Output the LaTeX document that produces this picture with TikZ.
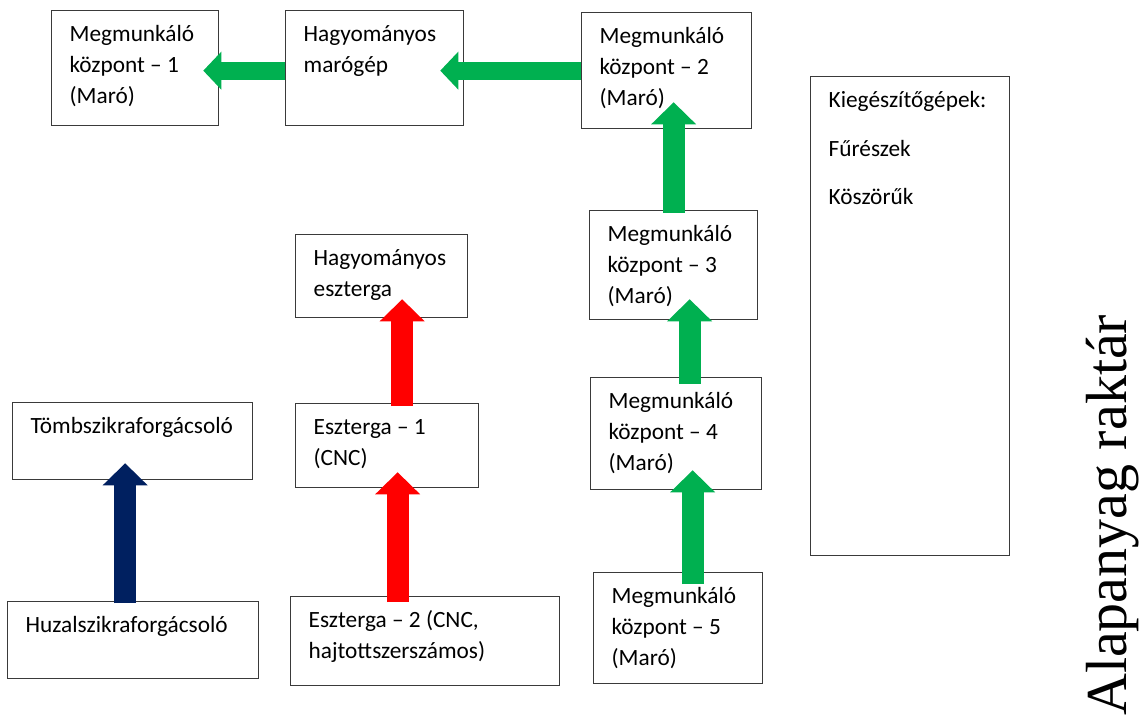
\documentclass[tikz,border=0pt]{standalone}
\usepackage{fontspec}
\setmainfont{Carlito}
\newfontfamily\raktarfont{Liberation Serif}
\usetikzlibrary{arrows.meta,calc}
\definecolor{flowgreen}{HTML}{00B050}
\definecolor{flowred}{HTML}{FF0000}
\definecolor{flownavy}{HTML}{002060}
\definecolor{boxline}{HTML}{3A3A3A}
\begin{document}
\begin{tikzpicture}[x=1pt,y=-1pt,
  % a machine box: #1 = text width, #2 = text depth (box height minus 31)
  machine/.style 2 args={draw=boxline, line width=1.3pt, anchor=north west,
    inner xsep=18pt, inner ysep=0pt, align=flush left,
    text width=#1pt, text height=31pt, text depth=#2pt,
    font=\fontsize{23.3}{31}\selectfont},
  flowv/.style={line width=22pt, -{Triangle[length=22pt, width=45pt, line width=0pt]}},
  flowh/.style={line width=18pt, -{Triangle[length=18pt, width=38pt, line width=0pt]}}]
\useasboundingbox (0,0) rectangle (1141,724);

% machine boxes
\node[machine={131}{84}] (mk1) at (51,10) {Megmunkáló\\központ – 1\\(Maró)};
\node[machine={142}{84}] (marogep) at (285,10) {Hagyományos\\marógép};
\node[machine={134}{85}] (mk2) at (581,12) {Megmunkáló\\központ – 2\\(Maró)};
\node[machine={163}{448}] (kieg) at (810,76) {Kiegészítőgépek:\\[17.5pt]Fűrészek\\[17.5pt]Köszörűk};
\node[machine={136}{52}] (hesz) at (295,234) {Hagyományos\\eszterga};
\node[machine={132}{78}] (mk3) at (589,210) {Megmunkáló\\központ – 3\\(Maró)};
\node[machine={204}{46}] (tomb) at (12,402) {Tömbszikraforgácsoló};
\node[machine={147}{53}] (esz1) at (295,403) {Eszterga – 1\\(CNC)};
\node[machine={135}{81}] (mk4) at (590,377) {Megmunkáló\\központ – 4\\(Maró)};
\node[machine={215}{46}] (huzal) at (7,601) {Huzalszikraforgácsoló};
\node[machine={233}{58}] (esz2) at (290,596) {Eszterga – 2 (CNC,\\hajtottszerszámos)};
\node[machine={133}{80}] (mk5) at (593,572) {Megmunkáló\\központ – 5\\(Maró)};

% storage label
\node[rotate=90, anchor=base west, inner sep=0pt,
  font=\raktarfont\fontsize{58}{60}\selectfont] (raktar) at (1126,716) {Alapanyag raktár};

% material flow: milling line
\draw[flowh, flowgreen] ($(marogep.west)+(0,2.5)$) -- ($(mk1.east)+(-16,2.5)$);
\draw[flowh, flowgreen] (mk2.west) -- ($(marogep.east |- mk2.west)+(-24,0)$);
\draw[flowv, flowgreen] ($(mk3.north)+(0,3)$) -- ($(mk3.north |- mk2.south)+(0,-27)$);
\draw[flowv, flowgreen] ($(mk4.north)+(13.5,7)$) -- ($(mk4.north |- mk3.south)+(13.5,-21)$);
\draw[flowv, flowgreen] ($(mk5.north)+(14.5,12)$) -- ($(mk5.north |- mk4.south)+(14.5,-20)$);

% turning line
\draw[flowv, flowred] ($(esz1.north)+(15,3)$) -- ($(esz1.north |- hesz.south)+(15,-19)$);
\draw[flowv, flowred] ($(esz2.north)+(-27.5,6)$) -- ($(esz2.north |- esz1.south)+(-27.5,-16)$);

% spark erosion
\draw[flowv, flownavy] ($(huzal.north)+(-8,2)$) -- ($(huzal.north |- tomb.south)+(-8,-17)$);
\end{tikzpicture}
\end{document}
